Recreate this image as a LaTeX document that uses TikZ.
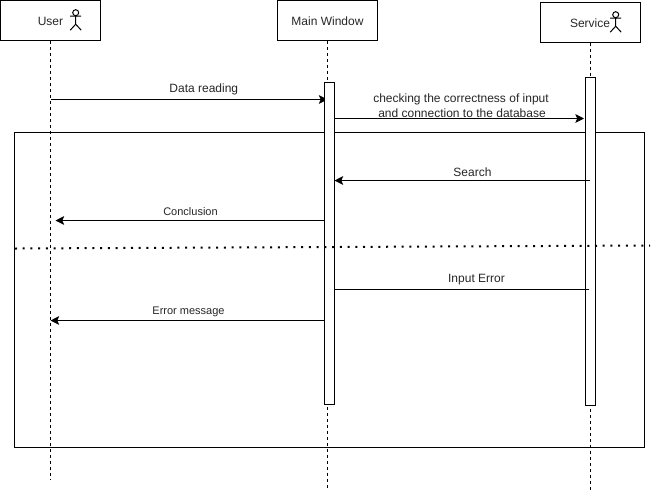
\documentclass[tikz,border=0pt]{standalone}
\usepackage{fontspec}
\setmainfont{Liberation Sans}
\usetikzlibrary{arrows.meta}
\tikzset{
  x=0.75pt,y=-0.75pt,
  every path/.append style={line width=0.75pt},
  head/.style={draw,minimum width=75pt,minimum height=30pt,inner sep=0pt,outer sep=0pt},
  lifebar/.style={draw,fill=white,minimum width=7.5pt,inner sep=0pt,outer sep=0pt},
  lifeline/.style={dash pattern=on 2.25pt off 2.25pt},
  msg/.style={-{Stealth[length=6.5pt,width=6.5pt,inset=1.4pt]}},
  plainmsg/.style={},
  lab/.style={font=\fontsize{9}{10.5}\selectfont,inner sep=0pt,text=black!85,align=center},
  smalllab/.style={font=\fontsize{8.25}{10}\selectfont,inner sep=0pt,text=black!85},
  headlab/.style={font=\fontsize{9}{10.5}\selectfont,inner sep=0pt,text=black!85},
  actorline/.style={line width=0.75pt}
}
\newcommand{\stickman}[2]{%
  \draw[actorline] (#1,#2) circle[radius=3];
  \draw[actorline] (#1,#2+3) -- (#1,#2+11.5) (#1-5.5,#2+3.5) -- (#1+5.5,#2+3.5)
    (#1-5.5,#2+17.5) -- (#1,#2+11.5) -- (#1+5.5,#2+17.5);
}
\begin{document}
\begin{tikzpicture}
\useasboundingbox (0,0) rectangle (653,490);
% frame
\node[draw,minimum width=472.5pt,minimum height=236.25pt,inner sep=0pt,outer sep=0pt] (frame) at (329.5,290) {};
% heads
\node[head] (user) at (50.5,20.5) {};
\node[head] (main) at (327.5,20.5) {};
\node[head] (service) at (590.5,22.5) {};
\node[headlab] (userlab) at (50.5,21) {User};
\node[headlab] (mainlab) at (327.5,21) {Main Window};
\node[headlab] (servicelab) at (590,23) {Service};
\stickman{75.7}{12.7}
\stickman{615.7}{14.7}
% lifeline ends
\coordinate (userend) at (50.5,480);
\coordinate (mainend) at (327.5,488);
\coordinate (serviceend) at (590.5,490);
\draw[lifeline] (user.south) -- (userend);
\draw[lifeline] (main.south) -- (mainend);
\draw[lifeline] (service.south) -- (serviceend);
% first message runs under the activation bar
\coordinate (m1s) at (50.5,99.5);
\coordinate (m1e) at (327.5,99.5);
\draw[msg] (m1s) -- (m1e);
% activation bars
\node[lifebar,minimum height=241.5pt] (mainbar) at (329.5,243.5) {};
\node[lifebar,minimum height=246pt] (servicebar) at (590.5,241.5) {};
% divider
\coordinate (divl) at (15,248.5);
\coordinate (divr) at (650,245.5);
\draw[line width=1.5pt,dash pattern=on 1.5pt off 4.3pt] (divl) -- (divr);
% message ends
\coordinate (m2s) at (334.5,118.5);
\coordinate (m2e) at (584,118.5);
\coordinate (m3s) at (590,180.5);
\coordinate (m3e) at (334.5,180.5);
\coordinate (m4s) at (324.5,220.5);
\coordinate (m4e) at (55.5,220.5);
\coordinate (m5s) at (334.5,289.5);
\coordinate (m5e) at (589,289.5);
\coordinate (m6s) at (324.5,320.5);
\coordinate (m6e) at (50.5,320.5);
\draw[msg] (m2s) -- (m2e);
\draw[msg] (m3s) -- (m3e);
\draw[msg] (m4s) -- (m4e);
\draw[plainmsg] (m5s) -- (m5e);
\draw[msg] (m6s) -- (m6e);
% labels
\node[lab] (l1) at (203.8,89.5) {Data reading};
\node[lab] (l2a) at (461,99) {checking the correctness of input};
\node[lab] (l2b) at (462,113) {and connection to the database};
\node[lab] (l3) at (472.5,172.5) {Search};
\node[smalllab] (l4) at (190.5,212) {Conclusion};
\node[lab] (l5) at (476.5,280) {Input Error};
\node[smalllab] (l6) at (188.5,312) {Error message};
\end{tikzpicture}
\end{document}
